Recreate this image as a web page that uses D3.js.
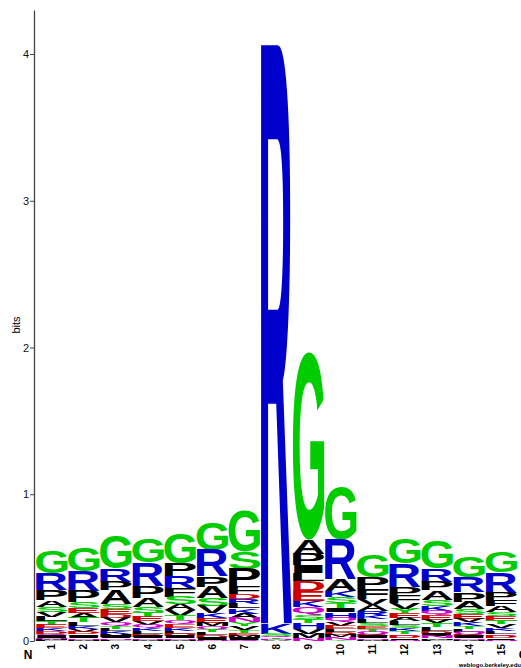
<!DOCTYPE html>
<html>
<head>
<meta charset="utf-8">
<script src="https://cdn.jsdelivr.net/npm/d3@7"></script>
<style>
  body { margin: 0; background: #fff; }
  svg { display: block; }
</style>
</head>
<body>
<div id="chart"></div>
<script>
// positions along the sequence
const positions = d3.range(1, 16).map(String);

// letters of each stack, top to bottom
const stackLetters = [
  "GRPASVLTEKDQINMF",
  "GRPSEATLKVDQINM",
  "GRPASEDVQTLKMINF",
  "GRPASTEVQKLDINM",
  "GPRFSAVTQEKLDINM",
  "GRPASVKEMQTLDIN",
  "GSPFDRLKANYVTEMIQ",
  "RKSQTNA",
  "GAPILDEKQSTHVMN",
  "GRAKSTIHQVELDMNY",
  "GPFVARKLSETQDINM",
  "GRPFVYEALSKTQDIN",
  "GRPASKQEVTLDINMF",
  "GRPASEVKTLQDINM",
  "GRPFASETVKLQDIN"
];

// heights in bits, same order as the letters
const stackBits = [
  [.15, .11, .07, .045, .035, .035, .03, .025, .022, .02, .018, .015, .012, .01, .008, .005],
  [.16, .14, .075, .04, .035, .03, .03, .025, .02, .02, .018, .015, .012, .01, .008],
  [.22, .09, .06, .095, .035, .03, .025, .03, .025, .02, .02, .02, .015, .012, .01, .008],
  [.16, .16, .08, .06, .04, .03, .03, .025, .02, .02, .02, .018, .012, .01, .008],
  [.21, .09, .08, .06, .05, .04, .04, .03, .025, .025, .02, .02, .018, .012, .01, .01],
  [.19, .18, .07, .08, .05, .05, .035, .03, .025, .02, .02, .02, .018, .012, .01],
  [.28, .115, .12, .05, .035, .035, .03, .035, .03, .03, .025, .025, .02, .02, .015, .012, .01],
  [3.95, .07, .015, .012, .01, .008, .006],
  [1.28, .1, .075, .05, .055, .07, .065, .045, .05, .03, .025, .04, .035, .03, .02],
  [.36, .27, .08, .04, .04, .035, .03, .035, .03, .025, .025, .02, .02, .015, .015, .01],
  [.15, .08, .07, .04, .04, .03, .025, .025, .02, .02, .02, .018, .015, .012, .01, .008],
  [.17, .16, .06, .05, .04, .03, .03, .025, .025, .02, .02, .02, .015, .015, .01, .008],
  [.19, .09, .06, .065, .04, .035, .03, .03, .025, .025, .025, .02, .015, .015, .01, .01],
  [.14, .10, .065, .05, .035, .03, .025, .025, .02, .02, .018, .015, .012, .01, .008],
  [.14, .14, .05, .04, .04, .03, .03, .025, .025, .02, .02, .015, .015, .01, .008]
];

const yTicks = [0, 1, 2, 3, 4];

const letterColor = l => {
  if ("GSTYC".includes(l)) return "#00cc00";
  if ("NQ".includes(l)) return "#cc00cc";
  if ("KRH".includes(l)) return "#0000cc";
  if ("DE".includes(l)) return "#cc0000";
  return "#000000";
};

const W = 521, H = 668;
const svg = d3.select("#chart").append("svg")
  .attr("width", W).attr("height", H);

const x = d3.scaleBand().domain(positions).range([36, 517]).paddingInner(0.02);
const y = d3.scaleLinear().domain([0, 4.3]).range([641, 10]);

// measure glyph ink boxes so each letter can be stretched to fill its cell
const FONT = "'Liberation Sans', Arial, Helvetica, sans-serif";
const ctx = document.createElement("canvas").getContext("2d");
ctx.font = "bold 100px " + FONT;
const glyph = {};
"ACDEFGHIKLMNPQRSTVWY".split("").forEach(l => {
  const m = ctx.measureText(l);
  glyph[l] = {
    left: m.actualBoundingBoxLeft, right: m.actualBoundingBoxRight,
    asc: m.actualBoundingBoxAscent, desc: m.actualBoundingBoxDescent
  };
});

// build stacks, drawn from the top of each column down to zero
const cells = [];
positions.forEach((p, i) => {
  const letters = stackLetters[i].split("");
  const bits = stackBits[i];
  let top = d3.sum(bits);
  letters.forEach((l, j) => {
    cells.push({pos: p, letter: l, y1: top, y0: top - bits[j]});
    top -= bits[j];
  });
});

const logo = svg.append("g");
logo.selectAll("text")
  .data(cells)
  .join("text")
  .attr("font-family", FONT)
  .attr("font-weight", "bold")
  .attr("font-size", 100)
  .attr("fill", d => letterColor(d.letter))
  .attr("transform", d => {
    const g = glyph[d.letter];
    const w = x.bandwidth(), h = y(d.y0) - y(d.y1);
    const sx = w / (g.left + g.right), sy = h / (g.asc + g.desc);
    return `translate(${x(d.pos)},${y(d.y1)}) scale(${sx},${sy}) translate(${g.left},${g.asc})`;
  })
  .text(d => d.letter);

// y axis
const yAxis = svg.append("g")
  .attr("transform", "translate(34,0)")
  .call(d3.axisLeft(y).tickValues(yTicks).tickSize(4).tickSizeOuter(0).tickFormat(d3.format("d")));
yAxis.select(".domain").attr("stroke", "#444").attr("stroke-width", 1.3);
yAxis.selectAll(".tick line").attr("stroke", "#444");
yAxis.selectAll(".tick text")
  .attr("font-family", FONT).attr("font-size", 11).attr("fill", "#111").attr("x", -5);

svg.append("text")
  .attr("transform", "translate(20,325) rotate(-90)")
  .attr("text-anchor", "middle")
  .attr("font-family", FONT).attr("font-size", 11)
  .text("bits");

// position numbers
svg.append("g").selectAll("text")
  .data(positions)
  .join("text")
  .attr("transform", d => `translate(${x(d) + x.bandwidth() / 2 + 3.5},644) rotate(-90)`)
  .attr("text-anchor", "end")
  .attr("font-family", FONT).attr("font-size", 10).attr("font-weight", "bold")
  .text(d => d);

svg.append("text")
  .attr("x", 28).attr("y", 659).attr("text-anchor", "middle")
  .attr("font-family", FONT).attr("font-size", 12).attr("font-weight", "bold")
  .text("N");
svg.append("text")
  .attr("x", 523).attr("y", 659).attr("text-anchor", "middle")
  .attr("font-family", FONT).attr("font-size", 12).attr("font-weight", "bold")
  .text("C");

svg.append("text")
  .attr("x", 521).attr("y", 667).attr("text-anchor", "end")
  .attr("font-family", FONT).attr("font-size", 6).attr("font-weight", "bold")
  .text("weblogo.berkeley.edu");
</script>
</body>
</html>
